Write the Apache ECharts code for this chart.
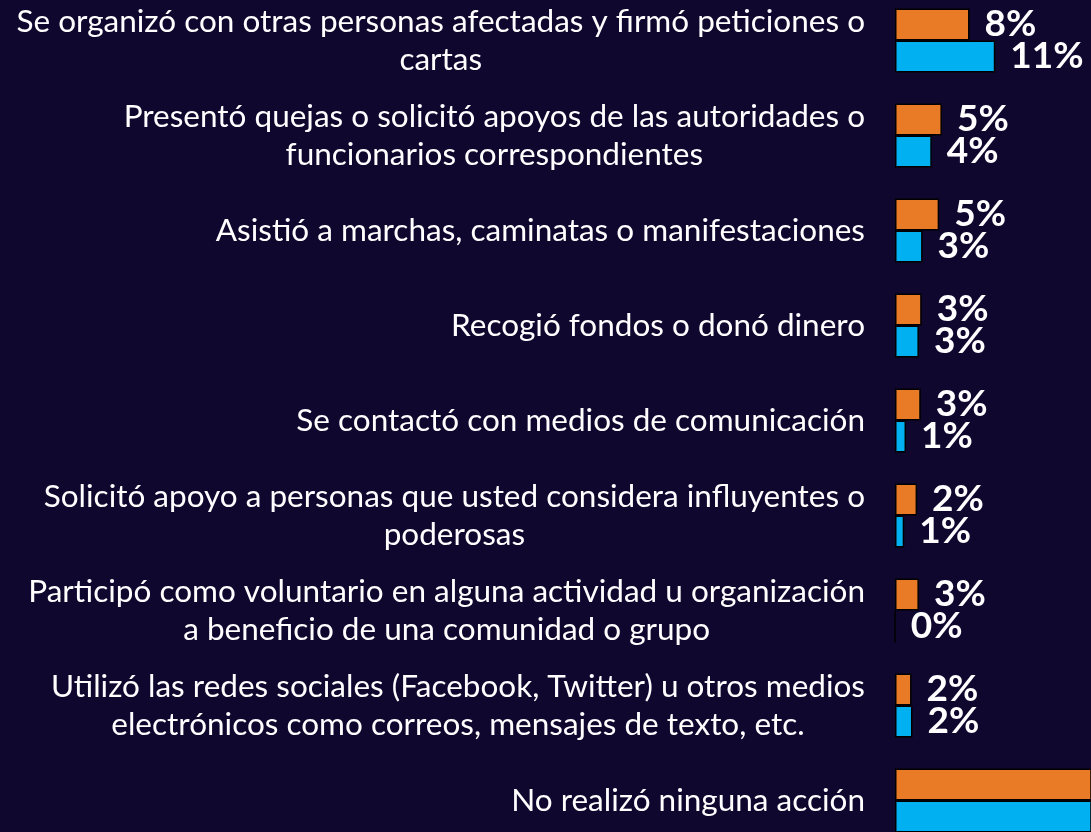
<!DOCTYPE html>
<html>
<head>
<meta charset="utf-8">
<title>Acciones</title>
<script src="https://cdn.jsdelivr.net/npm/echarts@6/dist/echarts.min.js"></script>
<style>
  html, body { margin: 0; padding: 0; background: #10072f; }
  #main { width: 1091px; height: 832px; }
</style>
</head>
<body>
<div id="main"></div>
<script>
// categorias (con salto de linea como en el original)
var categorias = [
  'Se organizó con otras personas afectadas y firmó peticiones o\ncartas',
  'Presentó quejas o solicitó apoyos de las autoridades o\nfuncionarios correspondientes',
  'Asistió a marchas, caminatas o manifestaciones',
  'Recogió fondos o donó dinero',
  'Se contactó con medios de comunicación',
  'Solicitó apoyo a personas que usted considera influyentes o\npoderosas',
  'Participó como voluntario en alguna actividad u organización\na beneficio de una comunidad o grupo',
  'Utilizó las redes sociales (Facebook, Twitter) u otros medios\nelectrónicos como correos, mensajes de texto, etc.',
  'No realizó ninguna acción'
];
// valores (%)
var serieNaranja = [8.1, 5.1, 4.8, 2.9, 2.8, 2.4, 2.6, 1.8, 71];
var serieAzul = [10.9, 4.0, 3.0, 2.6, 1.2, 1.0, 0.0, 1.9, 74];

var chart = echarts.init(document.getElementById('main'));

var etiqueta = {
  show: true,
  position: 'right',
  distance: 15,
  color: '#ffffff',
  fontFamily: 'Lato',
  fontWeight: 'bold',
  fontSize: 37,
  formatter: function (p) {
    return Math.round(p.value) + '%';
  }
};

var option = {
  backgroundColor: '#10072f',
  animation: false,
  grid: {
    left: 895,
    right: 0,
    top: -7,
    bottom: -16,
    outerBoundsMode: 'none'
  },
  xAxis: {
    type: 'value',
    min: 0,
    max: 21.3,
    show: false
  },
  yAxis: {
    type: 'category',
    inverse: true,
    data: categorias,
    axisLine: { show: false },
    axisTick: { show: false },
    axisLabel: {
      interval: 0,
      margin: 30,
      align: 'right',
      formatter: function (v) {
        return v.split('\n').map(function (l) {
          return '{t|' + l + '}';
        }).join('\n');
      },
      rich: {
        t: {
          align: 'center',
          color: '#ffffff',
          fontFamily: 'Lato',
          fontSize: 31.5,
          lineHeight: 38
        }
      }
    }
  },
  series: [{
    type: 'bar',
    data: serieNaranja,
    barWidth: 32,
    barGap: '0%',
    itemStyle: { color: '#e97b27', borderColor: '#000000', borderWidth: 1.5 },
    label: etiqueta
  }, {
    type: 'bar',
    data: serieAzul,
    barWidth: 32,
    itemStyle: { color: '#00b0f0', borderColor: '#000000', borderWidth: 1.5 },
    label: etiqueta
  }]
};
chart.setOption(option);
</script>
</body>
</html>
